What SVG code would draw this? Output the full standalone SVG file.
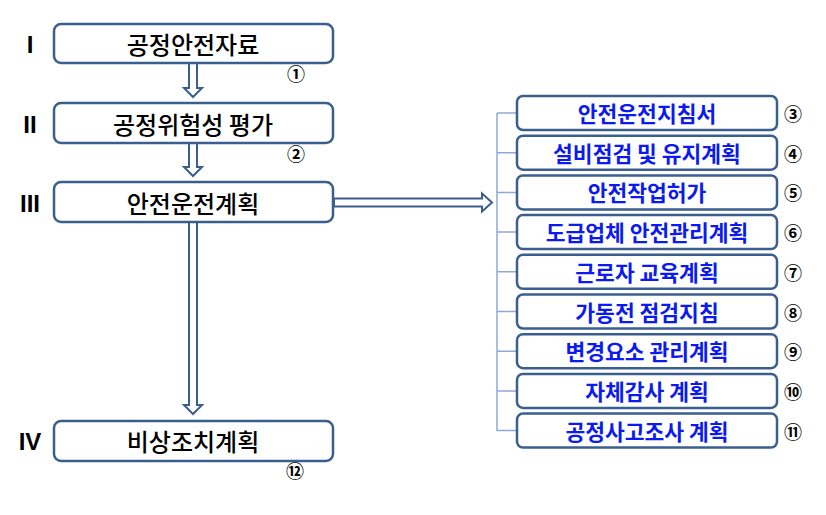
<svg xmlns="http://www.w3.org/2000/svg" width="826" height="515" viewBox="0 0 826 515">
<style>
.box{fill:#fff;stroke:#3A5F8F;stroke-width:2.5}
.lt{font-family:"Noto Sans CJK KR","Noto Sans",sans-serif;font-size:24px;fill:#000;text-anchor:middle;dominant-baseline:central;font-weight:500}
.rt{font-family:"Noto Sans CJK KR","Noto Sans",sans-serif;font-size:21.5px;fill:#0A1AF0;text-anchor:middle;dominant-baseline:central;font-weight:700}
.rom{font-family:"Liberation Sans",Arial,sans-serif;font-size:24px;font-weight:700;fill:#000;text-anchor:middle;dominant-baseline:central}
.num{font-family:"Noto Sans CJK KR","DejaVu Sans",sans-serif;font-size:18px;fill:#000;text-anchor:middle;dominant-baseline:central;font-weight:700}
.arr{fill:#fff;stroke:#3A5F8F;stroke-width:2;stroke-linejoin:miter}
.br{fill:none;stroke:#8EAAD6;stroke-width:1.5}
</style>
<g id="connectors">
<path class="arr" d="M189,63 V88 H184 L193,97 L202,88 H197 V63 Z"/>
<path class="arr" d="M189,143 V167 H184 L193,176 L202,167 H197 V143 Z"/>
<path class="arr" d="M189,222 V405 H184 L193,414 L202,405 H197 V222 Z"/>
<path class="arr" d="M334,198.5 H482 V193.5 L492,202.5 L482,211.5 V206.5 H334 Z"/>
<path class="br" d="M497,113 V431 M497,113 H517 M497,152.7 H517 M497,192.4 H517 M497,232.1 H517 M497,271.8 H517 M497,311.5 H517 M497,351.2 H517 M497,390.9 H517 M497,430.6 H517"/>
</g>
<g id="n1"><text class="rom" x="30" y="44">I</text><rect class="box" x="54" y="24" width="279" height="39" rx="7"/><text class="lt" x="193" y="43.5">공정안전자료</text><text class="num" x="296" y="73">①</text></g>
<g id="n2"><text class="rom" x="30" y="124">II</text><rect class="box" x="54" y="103" width="279" height="40" rx="7"/><text class="lt" x="193" y="123">공정위험성 평가</text><text class="num" x="296" y="153">②</text></g>
<g id="n3"><text class="rom" x="30" y="203">III</text><rect class="box" x="54" y="182" width="279" height="40" rx="7"/><text class="lt" x="193" y="202">안전운전계획</text></g>
<g id="n4"><text class="rom" x="30" y="441">IV</text><rect class="box" x="54" y="421" width="279" height="40" rx="7"/><text class="lt" x="193" y="440.5">비상조치계획</text><text class="num" x="295" y="470">⑫</text></g>
<g id="r3"><rect class="box" x="517" y="96" width="260" height="34" rx="6"/><text class="rt" x="647" y="112.5">안전운전지침서</text><text class="num" x="793" y="113">③</text></g>
<g id="r4"><rect class="box" x="517" y="135.7" width="260" height="34" rx="6"/><text class="rt" x="647" y="152.2">설비점검 및 유지계획</text><text class="num" x="793" y="152.7">④</text></g>
<g id="r5"><rect class="box" x="517" y="175.4" width="260" height="34" rx="6"/><text class="rt" x="647" y="191.9">안전작업허가</text><text class="num" x="793" y="192.4">⑤</text></g>
<g id="r6"><rect class="box" x="517" y="215.1" width="260" height="34" rx="6"/><text class="rt" x="647" y="231.6">도급업체 안전관리계획</text><text class="num" x="793" y="232.1">⑥</text></g>
<g id="r7"><rect class="box" x="517" y="254.8" width="260" height="34" rx="6"/><text class="rt" x="647" y="271.3">근로자 교육계획</text><text class="num" x="793" y="271.8">⑦</text></g>
<g id="r8"><rect class="box" x="517" y="294.5" width="260" height="34" rx="6"/><text class="rt" x="647" y="311">가동전 점검지침</text><text class="num" x="793" y="311.5">⑧</text></g>
<g id="r9"><rect class="box" x="517" y="334.2" width="260" height="34" rx="6"/><text class="rt" x="647" y="350.7">변경요소 관리계획</text><text class="num" x="793" y="351.2">⑨</text></g>
<g id="r10"><rect class="box" x="517" y="373.9" width="260" height="34" rx="6"/><text class="rt" x="647" y="390.4">자체감사 계획</text><text class="num" x="793" y="390.9">⑩</text></g>
<g id="r11"><rect class="box" x="517" y="413.6" width="260" height="34" rx="6"/><text class="rt" x="647" y="430.1">공정사고조사 계획</text><text class="num" x="793" y="430.6">⑪</text></g>
</svg>
